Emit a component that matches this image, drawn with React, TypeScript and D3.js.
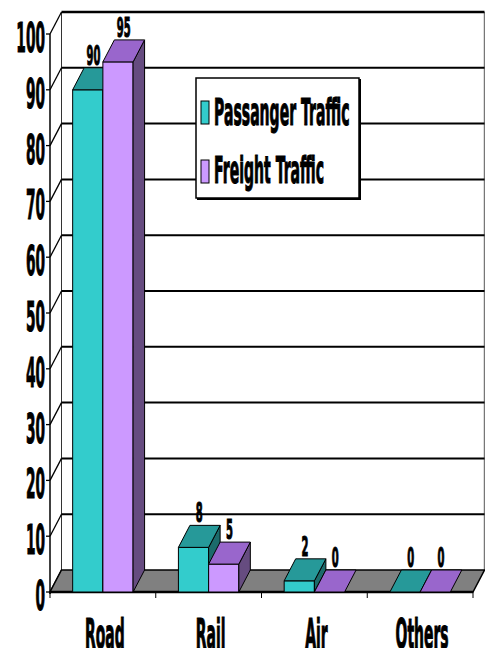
import React from "react";
import * as d3 from "d3";

// Modal share of traffic (%)
const categories = ["Road", "Rail", "Air", "Others"];
const passengerTraffic = [90, 8, 2, 0];
const freightTraffic = [95, 5, 0, 0];
const yTicks = [0, 10, 20, 30, 40, 50, 60, 70, 80, 90, 100];
const seriesNames = ["Passanger Traffic", "Freight Traffic"];

const W = 485;
const H = 648;
// oblique depth offset of the 3D box
const DX = 11.5;
const DY = -22;

const palette = [
  { front: "#33CCCC", top: "#269999", side: "#1C6B6B" },
  { front: "#CC99FF", top: "#9966CC", side: "#664C80" },
];

const FONT = "'DejaVu Sans', Verdana, sans-serif";

function Label({
  x,
  y,
  text,
  size,
  sx,
  anchor = "middle",
}: {
  x: number;
  y: number;
  text: string;
  size: number;
  sx: number;
  anchor?: "start" | "middle" | "end";
}) {
  return (
    <text
      transform={`translate(${x},${y}) scale(${sx},1)`}
      textAnchor={anchor}
      fontFamily={FONT}
      fontWeight="bold"
      fontSize={size}
      fill="#000"
      stroke="#000"
      strokeWidth={0.9}
      vectorEffect="non-scaling-stroke"
      style={{ vectorEffect: "non-scaling-stroke" } as React.CSSProperties}
    >
      {text}
    </text>
  );
}

export default function App() {
  const y = d3.scaleLinear().domain([0, 100]).range([592, 34]);
  const x = d3.scaleBand<string>().domain(categories).range([50, 473]);
  const bw = x.bandwidth();
  const gapRatio = 1.5;
  const barW = bw / (2 + gapRatio);
  const sub = d3.scaleBand<number>().domain([0, 1]).range([0, 2 * barW]);

  const x0 = x.range()[0];
  const x1 = x.range()[1];
  const base = y(0);

  const series = [passengerTraffic, freightTraffic];
  const pts = (p: [number, number][]) => p.map((q) => q.join(",")).join(" ");

  const bars: React.ReactNode[] = [];
  const valueLabels: React.ReactNode[] = [];
  categories.forEach((cat, ci) => {
    series.forEach((vals, si) => {
      const v = vals[ci];
      const left = (x(cat) as number) + (bw - 2 * barW) / 2 + (sub(si) as number);
      const right = left + barW;
      const top = y(v);
      const c = palette[si];
      const key = `${cat}-${si}`;
      bars.push(
        <g key={key} stroke="#000" strokeWidth={1} strokeLinejoin="round">
          {v > 0 && (
            <rect x={left} y={top} width={barW} height={base - top} fill={c.front} />
          )}
          {v > 0 && (
            <polygon
              points={pts([
                [right, top],
                [right + DX, top + DY],
                [right + DX, base + DY],
                [right, base],
              ])}
              fill={c.side}
            />
          )}
          <polygon
            points={pts([
              [left, top],
              [right, top],
              [right + DX, top + DY],
              [left + DX, top + DY],
            ])}
            fill={c.top}
          />
        </g>
      );
      valueLabels.push(
        <Label
          key={key}
          x={(left + right) / 2 + DX / 2}
          y={top + DY - 3}
          text={String(v)}
          size={27}
          sx={0.37}
        />
      );
    });
  });

  const boundaries = [...categories.map((c) => x(c) as number), x1];

  return (
    <svg
      width={W}
      height={H}
      style={{ position: "absolute", left: 0, top: 0, background: "#fff" }}
    >
      {/* back wall */}
      <line x1={x0 + DX} x2={x0 + DX} y1={y(100) + DY} y2={base + DY} stroke="#333" strokeWidth={1} />
      <line x1={x1 + DX} x2={x1 + DX} y1={y(100) + DY} y2={base + DY} stroke="#777" strokeWidth={1.5} />
      {yTicks
        .filter((t) => t > 0)
        .map((t) => (
          <line
            key={`g${t}`}
            x1={x0 + DX}
            x2={x1 + DX}
            y1={y(t) + DY}
            y2={y(t) + DY}
            stroke="#000"
            strokeWidth={t === 100 ? 2.6 : 2}
          />
        ))}
      {/* side-wall diagonals and front value axis */}
      {yTicks.map((t) => (
        <g key={`d${t}`} stroke="#000" strokeWidth={1.3}>
          <line x1={x0} y1={y(t)} x2={x0 + DX} y2={y(t) + DY} />
          <line x1={x0 - 4} y1={y(t)} x2={x0} y2={y(t)} />
        </g>
      ))}
      <line x1={x0} x2={x0} y1={y(100)} y2={base + 2} stroke="#000" strokeWidth={1.5} />

      {/* floor */}
      <polygon
        points={pts([
          [x0, base],
          [x1, base],
          [x1 + DX, base + DY],
          [x0 + DX, base + DY],
        ])}
        fill="#808080"
        stroke="#000"
        strokeWidth={1.5}
      />
      <line x1={x0} x2={x1} y1={base} y2={base} stroke="#000" strokeWidth={2.5} />
      {boundaries.map((b, i) => (
        <line key={`t${i}`} x1={b} x2={b} y1={base} y2={base + 6} stroke="#000" strokeWidth={1} />
      ))}

      {bars}
      {valueLabels}

      {/* value axis labels */}
      {yTicks.map((t) => (
        <Label key={`yl${t}`} x={45} y={y(t) + 18} text={String(t)} size={41} sx={0.335} anchor="end" />
      ))}

      {/* category labels */}
      {categories.map((c) => (
        <Label
          key={`c${c}`}
          x={(x(c) as number) + bw / 2 + 2}
          y={648}
          text={c}
          size={41}
          sx={0.34}
        />
      ))}

      {/* legend */}
      <g>
        <rect x={197} y={79} width={164} height={121} fill="#000" />
        <rect x={196} y={78} width={163} height={120} fill="#fff" stroke="#000" strokeWidth={1.5} />
        {seriesNames.map((name, i) => (
          <g key={name}>
            <rect
              x={201}
              y={101 + i * 59}
              width={8}
              height={23}
              fill={palette[i].front}
              stroke="#000"
              strokeWidth={1}
            />
            <Label x={214} y={125 + i * 58} text={name} size={37} sx={0.38} anchor="start" />
          </g>
        ))}
      </g>
    </svg>
  );
}
